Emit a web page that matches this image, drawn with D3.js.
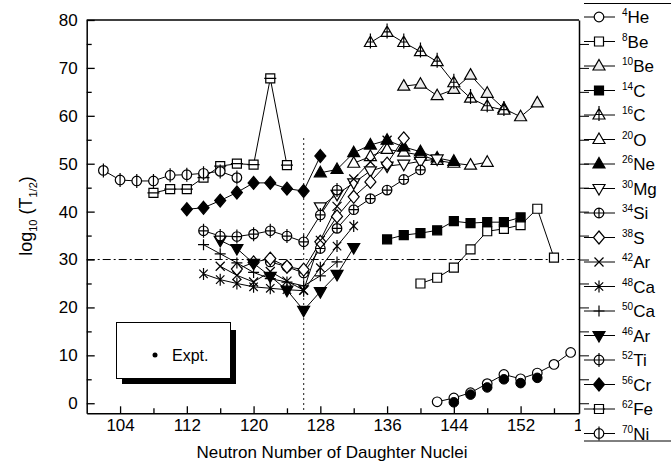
<!DOCTYPE html>
<html>
<head>
<meta charset="utf-8">
<script src="https://cdn.jsdelivr.net/npm/d3@7"></script>
<style>
body { margin: 0; background: #fff; }
svg { font-family: "Liberation Sans", Arial, sans-serif; }
</style>
</head>
<body>
<svg width="671" height="473"></svg>
<script>
// neutron numbers of the daughter and log10(T1/2) for each emitted cluster
const nHe4 = [142, 144, 146, 148, 150, 152, 154, 156, 158];
const vHe4 = [0.3, 1.1, 2.2, 4.1, 6.0, 5.1, 6.3, 8.1, 10.6];
const nExpt = [144, 146, 148, 150, 152, 154];
const vExpt = [0.2, 1.8, 3.3, 5.0, 4.2, 5.3];
const nBe8 = [140, 142, 144, 146, 148, 150, 152, 154, 156];
const vBe8 = [25.0, 26.2, 28.3, 32.1, 35.9, 36.4, 37.2, 40.6, 30.4];
const nBe10 = [138, 140, 142, 144, 146, 148, 150, 152, 154];
const vBe10 = [66.2, 66.6, 64.2, 65.5, 68.5, 64.7, 61.5, 59.8, 62.7];
const nC14 = [136, 138, 140, 142, 144, 146, 148, 150, 152];
const vC14 = [34.2, 35.1, 35.5, 36.1, 38.0, 37.6, 37.8, 37.8, 38.8];
const nC16 = [134, 136, 138, 140, 142, 144, 146, 148, 150];
const vC16 = [75.3, 77.4, 75.3, 73.4, 71.3, 66.9, 63.7, 62.0, 61.2];
const nO20 = [132, 134, 136, 138, 140, 142, 144, 146, 148];
const vO20 = [50.1, 51.5, 53.0, 52.4, 51.8, 50.7, 50.1, 49.7, 50.3];
const nNe26 = [128, 130, 132, 134, 136, 138, 140, 142, 144];
const vNe26 = [48.1, 48.8, 52.3, 53.9, 54.9, 53.5, 52.5, 51.2, 50.5];
const nMg30 = [128, 130, 132, 134, 136, 138, 140, 142];
const vMg30 = [41.0, 43.6, 46.0, 48.5, 49.5, 49.9, 50.5, 51.0];
const nSi34 = [122, 124, 126, 128, 130, 132, 134, 136, 138, 140];
const vSi34 = [29.5, 28.5, 27.2, 32.3, 36.5, 40.4, 42.7, 44.5, 46.7, 48.7];
const nS38 = [118, 120, 122, 124, 126, 128, 130, 132, 134, 136, 138];
const vS38 = [28.0, 29.4, 30.2, 28.5, 27.9, 33.7, 39.0, 43.1, 46.2, 50.0, 55.3];
const nAr42 = [116, 118, 120, 122, 124, 126, 128, 130, 132, 134, 136];
const vAr42 = [28.6, 26.7, 25.3, 27.5, 25.5, 23.6, 34.0, 41.1, 46.8, 50.4, 54.9];
const nCa48 = [114, 116, 118, 120, 122, 124, 126, 128, 130, 132];
const vCa48 = [27.0, 25.8, 25.0, 24.3, 24.0, 23.7, 23.5, 28.3, 32.8, 37.0];
const nCa50 = [114, 116, 118, 120, 122, 124, 126, 128, 130];
const vCa50 = [33.1, 31.2, 29.3, 27.3, 26.0, 25.3, 24.5, 26.6, 29.5];
const nAr46 = [116, 118, 120, 122, 124, 126, 128, 130, 132];
const vAr46 = [34.0, 32.3, 29.2, 26.5, 23.6, 19.4, 23.3, 26.9, 32.5];
const nTi52 = [114, 116, 118, 120, 122, 124, 126, 128, 130];
const vTi52 = [36.0, 34.9, 34.8, 35.3, 36.0, 34.9, 33.7, 39.3, 44.5];
const nCr56 = [112, 114, 116, 118, 120, 122, 124, 126, 128];
const vCr56 = [40.5, 40.8, 42.3, 44.0, 46.0, 46.0, 44.8, 44.3, 51.6];
const nFe62 = [108, 110, 112, 114, 116, 118, 120, 122, 124];
const vFe62 = [43.9, 44.7, 44.7, 47.1, 49.5, 50.0, 49.8, 67.8, 49.7];
const nNi70 = [102, 104, 106, 108, 110, 112, 114, 116, 118];
const vNi70 = [48.6, 46.6, 46.4, 46.4, 47.6, 47.7, 48.0, 48.4, 47.1];

const xTicks = [104, 112, 120, 128, 136, 144, 152, 160];
const yTicks = [0, 10, 20, 30, 40, 50, 60, 70, 80];

const series = [
  { mass: '4', el: 'He', n: nHe4, v: vHe4, sym: 'circle' },
  { mass: '8', el: 'Be', n: nBe8, v: vBe8, sym: 'square' },
  { mass: '10', el: 'Be', n: nBe10, v: vBe10, sym: 'triangle', fill: '#ececec' },
  { mass: '14', el: 'C', n: nC14, v: vC14, sym: 'square', fill: '#000' },
  { mass: '16', el: 'C', n: nC16, v: vC16, sym: 'tricross' },
  { mass: '20', el: 'O', n: nO20, v: vO20, sym: 'triangle' },
  { mass: '26', el: 'Ne', n: nNe26, v: vNe26, sym: 'triangle', fill: '#000' },
  { mass: '30', el: 'Mg', n: nMg30, v: vMg30, sym: 'tridown' },
  { mass: '34', el: 'Si', n: nSi34, v: vSi34, sym: 'circlecross' },
  { mass: '38', el: 'S', n: nS38, v: vS38, sym: 'diamond' },
  { mass: '42', el: 'Ar', n: nAr42, v: vAr42, sym: 'x' },
  { mass: '48', el: 'Ca', n: nCa48, v: vCa48, sym: 'star' },
  { mass: '50', el: 'Ca', n: nCa50, v: vCa50, sym: 'plus' },
  { mass: '46', el: 'Ar', n: nAr46, v: vAr46, sym: 'tridown', fill: '#000' },
  { mass: '52', el: 'Ti', n: nTi52, v: vTi52, sym: 'circlephi' },
  { mass: '56', el: 'Cr', n: nCr56, v: vCr56, sym: 'diamond', fill: '#000' },
  { mass: '62', el: 'Fe', n: nFe62, v: vFe62, sym: 'squarebar' },
  { mass: '70', el: 'Ni', n: nNi70, v: vNi70, sym: 'circlevert' }
];

const svg = d3.select('svg');
const x = d3.scaleLinear().domain([100, 159]).range([86.7, 579]);
const y = d3.scaleLinear().domain([-2.1, 80]).range([413.3, 20]);

function circ(r) {
  return `M${r},0A${r},${r} 0 1,1 ${-r},0A${r},${r} 0 1,1 ${r},0Z`;
}
function symbolPath(s) {
  switch (s) {
    case 'circle': return circ(4.8);
    case 'dot': return circ(4.8);
    case 'square': return 'M-4.5,-4.5H4.5V4.5H-4.5Z';
    case 'squarebar': return 'M-4.5,-4.5H4.5V4.5H-4.5ZM-6,0H6';
    case 'triangle': return 'M0,-6.5L6,4L-6,4Z';
    case 'tricross': return 'M0,-6.5L6,4L-6,4ZM0,-9V6M-3.6,-0.5H3.6';
    case 'tridown': return 'M0,6.5L6,-4L-6,-4Z';
    case 'diamond': return 'M0,-6.5L5.5,0L0,6.5L-5.5,0Z';
    case 'x': return 'M-4.5,-4.5L4.5,4.5M-4.5,4.5L4.5,-4.5';
    case 'plus': return 'M-5.5,0H5.5M0,-5.5V5.5';
    case 'star': return 'M-4.2,-4.2L4.2,4.2M-4.2,4.2L4.2,-4.2M0,-6V6';
    case 'circlecross': return circ(4.8) + 'M-4.8,0H4.8M0,-4.8V4.8';
    case 'circlephi': return circ(4.8) + 'M-4.8,0H4.8M0,-7V7';
    case 'circlevert': return circ(4.8) + 'M0,-7V7';
  }
}

// reference lines
svg.append('line')
  .attr('x1', x(100)).attr('x2', x(159))
  .attr('y1', y(30)).attr('y2', y(30))
  .attr('stroke', '#000').attr('stroke-width', 1)
  .attr('stroke-dasharray', '8,3,2,3');
svg.append('line')
  .attr('x1', x(126)).attr('x2', x(126))
  .attr('y1', y(55.3)).attr('y2', y(-2.1))
  .attr('stroke', '#000').attr('stroke-width', 1.2)
  .attr('stroke-dasharray', '1.5,3.5');

const line = d3.line().x(d => x(d[0])).y(d => y(d[1]));

series.forEach(s => {
  const pts = s.n.map((n, i) => [n, s.v[i]]);
  svg.append('path')
    .datum(pts)
    .attr('d', line)
    .attr('fill', 'none')
    .attr('stroke', '#000')
    .attr('stroke-width', 1);
});

const exptPts = nExpt.map((n, i) => [n, vExpt[i]]);

series.forEach(s => {
  const pts = s.n.map((n, i) => [n, s.v[i]]);
  svg.append('g').selectAll('path')
    .data(pts)
    .join('path')
    .attr('transform', d => `translate(${x(d[0])},${y(d[1])})`)
    .attr('d', symbolPath(s.sym))
    .attr('fill', s.fill || '#fff')
    .attr('stroke', '#000')
    .attr('stroke-width', 1.2);
  if (s.sym === 'circle') {
    svg.append('g').selectAll('path')
      .data(exptPts)
      .join('path')
      .attr('transform', d => `translate(${x(d[0])},${y(d[1])})`)
      .attr('d', symbolPath('dot'))
      .attr('fill', '#000')
      .attr('stroke', '#000');
  }
});

// axes
const fs = '17px';
const left = svg.append('g').attr('transform', `translate(${x(100)},0)`)
  .call(d3.axisLeft(y).tickValues(yTicks).tickSizeInner(-8).tickSizeOuter(0).tickPadding(9));
left.selectAll('text').style('font-size', fs).attr('fill', '#000');
svg.append('g').attr('transform', `translate(${x(100)},0)`)
  .call(d3.axisLeft(y).tickValues(d3.range(5, 80, 10)).tickSizeInner(-5).tickSizeOuter(0).tickFormat(''))
  .select('.domain').remove();

const bottom = svg.append('g').attr('transform', `translate(0,${y(-2.1)})`)
  .call(d3.axisBottom(x).tickValues(xTicks).tickSizeInner(-7).tickSizeOuter(0).tickPadding(6));
bottom.selectAll('text').style('font-size', fs).attr('fill', '#000');
svg.append('g').attr('transform', `translate(0,${y(-2.1)})`)
  .call(d3.axisBottom(x).tickValues(d3.range(108, 160, 8)).tickSizeInner(-5).tickSizeOuter(0).tickFormat(''))
  .select('.domain').remove();

svg.selectAll('.domain').attr('stroke-width', 1.5);
svg.selectAll('.tick line').attr('stroke-width', 1.3);

// top frame line
svg.append('line')
  .attr('x1', x(100)).attr('x2', x(159))
  .attr('y1', y(80)).attr('y2', y(80))
  .attr('stroke', '#000').attr('stroke-width', 1.5);

// Expt. box with shadow
svg.append('rect').attr('x', 122).attr('y', 330).attr('width', 114).attr('height', 54).attr('fill', '#000');
svg.append('rect').attr('x', 116.5).attr('y', 322.5).attr('width', 114).attr('height', 56)
  .attr('fill', '#fff').attr('stroke', '#000').attr('stroke-width', 1);
svg.append('circle').attr('cx', 155).attr('cy', 355).attr('r', 2.5).attr('fill', '#000');
svg.append('text').attr('x', 172).attr('y', 361).style('font-size', '16px').text('Expt.');

// legend box
svg.append('rect').attr('x', 581).attr('y', 3).attr('width', 95).attr('height', 438)
  .attr('fill', '#fff').attr('stroke', 'none');
svg.append('line').attr('x1', 584).attr('x2', 671).attr('y1', 3.5).attr('y2', 3.5).attr('stroke', '#000');
svg.append('line').attr('x1', 584).attr('x2', 671).attr('y1', 441).attr('y2', 441).attr('stroke', '#000');

// right axis
const right = svg.append('g').attr('transform', `translate(${x(159)},0)`)
  .call(d3.axisRight(y).tickValues(d3.range(0, 80, 5)).tickSizeInner(10).tickSizeOuter(0).tickFormat(''));
right.selectAll('.domain').attr('stroke-width', 1.5);
right.selectAll('.tick line').attr('stroke-width', 1);

const leg = svg.append('g');
series.forEach((s, i) => {
  const ly = 17 + 24.5 * i;
  const g = leg.append('g').attr('transform', `translate(0,${ly})`);
  g.append('line').attr('x1', 584).attr('x2', 615).attr('y1', 0).attr('y2', 0).attr('stroke', '#000');
  g.append('path').attr('transform', 'translate(599,0)')
    .attr('d', symbolPath(s.sym))
    .attr('fill', s.fill || '#fff')
    .attr('stroke', '#000').attr('stroke-width', 1.2);
  const t = g.append('text').attr('x', 622).attr('y', 6);
  t.append('tspan').style('font-size', '10px').attr('dy', -7).text(s.mass);
  t.append('tspan').style('font-size', '17px').attr('dy', 7).text(s.el);
});

// titles
svg.append('text')
  .attr('x', 332).attr('y', 458)
  .attr('text-anchor', 'middle')
  .style('font-size', '17px')
  .text('Neutron Number of Daughter Nuclei');

const yt = svg.append('text')
  .attr('transform', 'translate(32,216) rotate(-90)')
  .attr('text-anchor', 'middle')
  .style('font-size', '18px');
yt.append('tspan').text('log');
yt.append('tspan').style('font-size', '11px').attr('dy', 5).text('10');
yt.append('tspan').attr('dy', -5).text(' (T');
yt.append('tspan').style('font-size', '11px').attr('dy', 5).text('1/2');
yt.append('tspan').attr('dy', -5).text(')');
</script>
</body>
</html>
